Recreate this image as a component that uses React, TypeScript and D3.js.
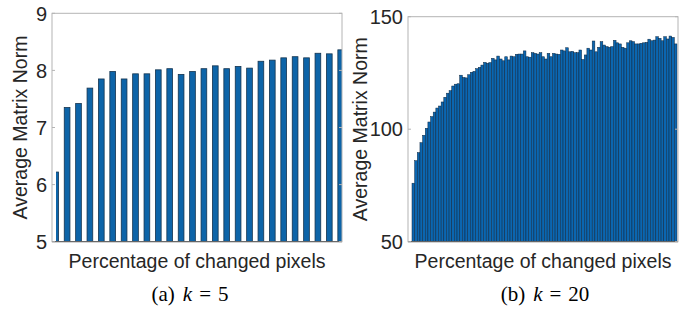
import React from 'react';
import * as d3 from 'd3';

// k = 5 panel, one bar per setting
const valuesK5 = [
  6.22, 7.35, 7.42, 7.69, 7.85, 7.98, 7.85, 7.94, 7.94, 8.01, 8.03, 7.93, 7.98,
  8.03, 8.08, 8.03, 8.07, 8.04, 8.16, 8.18, 8.22, 8.24, 8.22, 8.30, 8.29, 8.36,
];
const ticksK5 = [5, 6, 7, 8, 9];

// k = 20 panel
const valuesK20 = [
  76, 86, 89.6, 94, 97.3, 100.4, 103.2, 105.6, 107.6, 109.4,
  110.3, 112.1, 114.2, 116, 117.1, 119.2, 120, 120.2, 124, 123,
  122.8, 124.2, 125.3, 125.7, 126.9, 127.5, 128.5, 129.7, 129.3, 129.6,
  131.5, 130.8, 132.5, 131.2, 130.4, 132.2, 130.8, 132.5, 132.2, 133.3,
  133.4, 133.4, 134.8, 132.2, 132, 134, 133.7, 133.4, 134, 132.2,
  131.2, 133.7, 132.2, 133.7, 133.4, 133.3, 135.2, 134.8, 136.2, 134.4,
  134.6, 134, 134, 135.2, 131, 133, 136, 135.2, 139.2, 134.4,
  136.4, 138.9, 137.4, 136.7, 136.4, 136.7, 139.5, 138.4, 137.9, 136.4,
  136, 138.4, 139.3, 138.9, 137.9, 137.9, 138.2, 138.4, 138.6, 140,
  139.3, 139.6, 141.1, 140.4, 139.3, 141.1, 140.1, 141.4, 140.8, 137.9,
];
const ticksK20 = [50, 100, 150];

const yLabel = 'Average Matrix Norm';
const xLabel = 'Percentage of changed pixels';

const sans = 'Liberation Sans, Arial, Helvetica, sans-serif';
const serif = 'Liberation Serif, Times New Roman, serif';
const textColor = '#262626';
const frameColor = '#b4b4b4';

type PanelProps = {
  id: string;
  values: number[];
  ticks: number[];
  left: number;
  right: number;
  top: number;
  bottom: number;
  barLeft: number;
  barRight: number;
  bandPadding: number;
  clipLeft: number;
  labelX: number;
  captionX: number;
  letter: string;
  k: number;
  fill: string;
  stroke: string;
  strokeWidth: number;
};

const Panel = (p: PanelProps) => {
  const y = d3.scaleLinear()
    .domain([p.ticks[0], p.ticks[p.ticks.length - 1]])
    .range([p.bottom, p.top]);

  const x = d3.scaleBand<number>()
    .domain(p.values.map((_, i) => i))
    .range([p.barLeft, p.barRight])
    .paddingInner(p.bandPadding)
    .paddingOuter(p.bandPadding / 2);

  const cx = (p.left + p.right) / 2;
  const cy = (p.top + p.bottom) / 2;

  return (
    <g>
      <defs>
        <clipPath id={p.id}>
          <rect x={p.clipLeft} y={p.top} width={p.right - p.clipLeft} height={p.bottom - p.top} />
        </clipPath>
      </defs>

      <g clipPath={`url(#${p.id})`}>
        {p.values.map((v, i) => (
          <rect
            key={i}
            x={x(i)}
            y={y(v)}
            width={x.bandwidth()}
            height={p.bottom - y(v)}
            fill={p.fill}
            stroke={p.stroke}
            strokeWidth={p.strokeWidth}
          />
        ))}
      </g>

      {/* box */}
      <rect x={p.left} y={p.top} width={p.right - p.left} height={p.bottom - p.top}
        fill="none" stroke={frameColor} strokeWidth={1} />
      <line x1={p.left} x2={p.right} y1={p.bottom} y2={p.bottom} stroke="#555" strokeWidth={1} />

      {/* y ticks, inside on both sides */}
      {p.ticks.map(t => (
        <g key={t}>
          <line x1={p.left} x2={p.left + 3} y1={y(t)} y2={y(t)} stroke={frameColor} />
          <line x1={p.right - 3} x2={p.right} y1={y(t)} y2={y(t)} stroke={frameColor} />
          <text x={p.left - 5} y={y(t)} dy="0.36em" textAnchor="end"
            fontFamily={sans} fontSize={20} fill={textColor}>{t}</text>
        </g>
      ))}

      <text transform={`translate(${p.labelX},${cy}) rotate(-90)`} textAnchor="middle"
        fontFamily={sans} fontSize={19.5} fill={textColor}>{yLabel}</text>

      <text x={cx} y={268} textAnchor="middle" fontFamily={sans} fontSize={19.5} fill={textColor}>
        {xLabel}
      </text>

      <text x={p.captionX} y={301} textAnchor="middle" fontFamily={serif} fontSize={21} fill="#000">
        {`(${p.letter})`}
        <tspan dx={8} fontStyle="italic">k</tspan>
        <tspan dx={7}>=</tspan>
        <tspan dx={7}>{p.k}</tspan>
      </text>
    </g>
  );
};

export default function App() {
  return (
    <svg width={693} height={312} style={{ position: 'absolute', left: 0, top: 0, background: '#fff' }}>
      <Panel
        id="clipA"
        values={valuesK5}
        ticks={ticksK5}
        left={52} right={342} top={13.3} bottom={241.7}
        barLeft={50} barRight={346.4} bandPadding={0.5}
        clipLeft={56}
        labelX={27}
        captionX={190}
        letter="a" k={5}
        fill="#0d64a8" stroke="#14344f" strokeWidth={0.8}
      />
      <Panel
        id="clipB"
        values={valuesK20}
        ticks={ticksK20}
        left={408} right={678} top={16.7} bottom={241.7}
        barLeft={412} barRight={677} bandPadding={0}
        clipLeft={408}
        labelX={367}
        captionX={545}
        letter="b" k={20}
        fill="#0b66b0" stroke="#0d2740" strokeWidth={0.5}
      />
    </svg>
  );
}
